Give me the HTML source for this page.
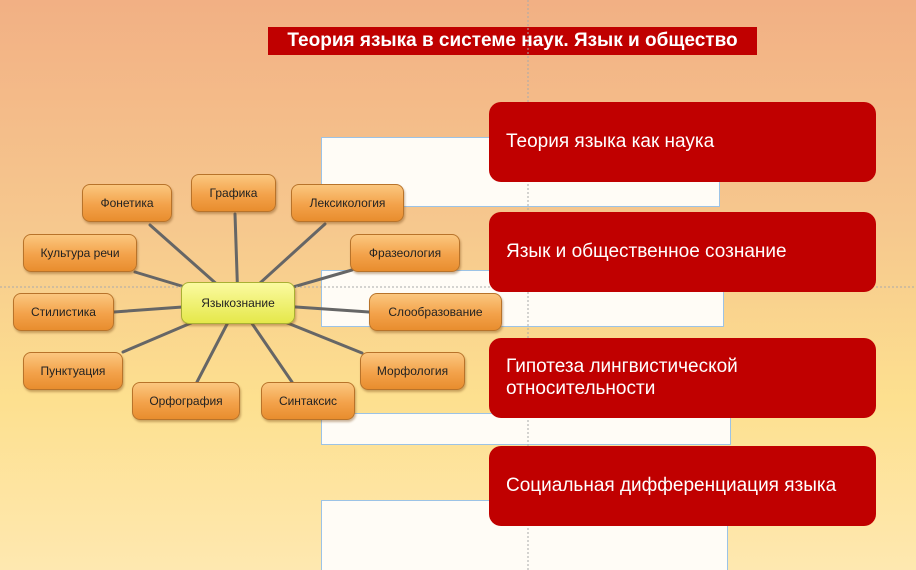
<!DOCTYPE html>
<html style="margin:0;width:916px;height:570px;overflow:hidden;background:#fee8b0"><head><meta charset="utf-8"><style>
body{margin:0;width:916px;height:570px;overflow:hidden;position:relative;font-family:"Liberation Sans",sans-serif;
background:linear-gradient(180deg,#f2b084 0%,#f6c88e 40%,#fde08f 70%,#fee8b0 100%);}
.w{position:absolute;background:#fffcf6;border:1.5px solid #9cc3e6;box-sizing:border-box}
.r{position:absolute;left:489px;width:387px;height:80px;background:#c00000;border-radius:12px;color:#fff;font-size:19px;box-sizing:border-box;padding-left:17px;display:flex;align-items:center;line-height:22px}
.n{position:absolute;height:38px;border-radius:8px;border:1.5px solid #b8732a;box-sizing:border-box;background:linear-gradient(180deg,#fbc77f 0%,#f3a24a 55%,#e88d2e 100%);font-size:12px;color:#222;display:flex;align-items:center;justify-content:center;box-shadow:1px 2px 2px rgba(120,70,20,.4)}
.t{position:absolute;left:268px;top:27px;width:489px;height:28px;background:#c00000;color:#fff;font-weight:bold;font-size:19px;text-align:center;line-height:28px}
</style></head><body>
<div class="t">Теория языка в системе наук. Язык и общество</div>
<div class="w" style="left:321px;top:137px;width:399px;height:70px"></div>
<div class="w" style="left:321px;top:270px;width:403px;height:57px"></div>
<div class="w" style="left:321px;top:413px;width:410px;height:32px"></div>
<div class="w" style="left:321px;top:500px;width:407px;height:80px"></div>
<svg style="position:absolute;left:0;top:0" width="916" height="570">
<g stroke="#666" stroke-width="3" stroke-linecap="round">
<line x1="238" y1="303" x2="150" y2="225"/>
<line x1="238" y1="303" x2="235" y2="214"/>
<line x1="238" y1="303" x2="325" y2="224"/>
<line x1="238" y1="303" x2="135" y2="272"/>
<line x1="238" y1="303" x2="352" y2="270"/>
<line x1="238" y1="303" x2="114" y2="312"/>
<line x1="238" y1="303" x2="369" y2="312"/>
<line x1="238" y1="303" x2="123" y2="352"/>
<line x1="238" y1="303" x2="362" y2="353"/>
<line x1="238" y1="303" x2="197" y2="382"/>
<line x1="238" y1="303" x2="292" y2="382"/>
</g>
<line x1="0" y1="287" x2="916" y2="287" stroke="#aaa" stroke-dasharray="2,2"/>
<line x1="528" y1="0" x2="528" y2="570" stroke="#aaa" stroke-dasharray="2,2"/>
</svg>
<div class="n" style="left:82px;top:184px;width:90px">Фонетика</div>
<div class="n" style="left:191px;top:174px;width:85px">Графика</div>
<div class="n" style="left:291px;top:184px;width:113px">Лексикология</div>
<div class="n" style="left:23px;top:234px;width:114px">Культура речи</div>
<div class="n" style="left:350px;top:234px;width:110px">Фразеология</div>
<div class="n" style="left:181px;top:282px;width:114px;height:42px;background:linear-gradient(180deg,#fbfaa0,#e5e84a);border-color:#a9b033">Языкознание</div>
<div class="n" style="left:13px;top:293px;width:101px">Стилистика</div>
<div class="n" style="left:369px;top:293px;width:133px">Слообразование</div>
<div class="n" style="left:23px;top:352px;width:100px">Пунктуация</div>
<div class="n" style="left:360px;top:352px;width:105px">Морфология</div>
<div class="n" style="left:132px;top:382px;width:108px">Орфография</div>
<div class="n" style="left:261px;top:382px;width:94px">Синтаксис</div>
<div class="r" style="top:102px">Теория языка как наука</div>
<div class="r" style="top:212px">Язык и общественное сознание</div>
<div class="r" style="top:338px">Гипотеза лингвистической<br>относительности</div>
<div class="r" style="top:446px">Социальная дифференциация языка</div>
</body></html>
